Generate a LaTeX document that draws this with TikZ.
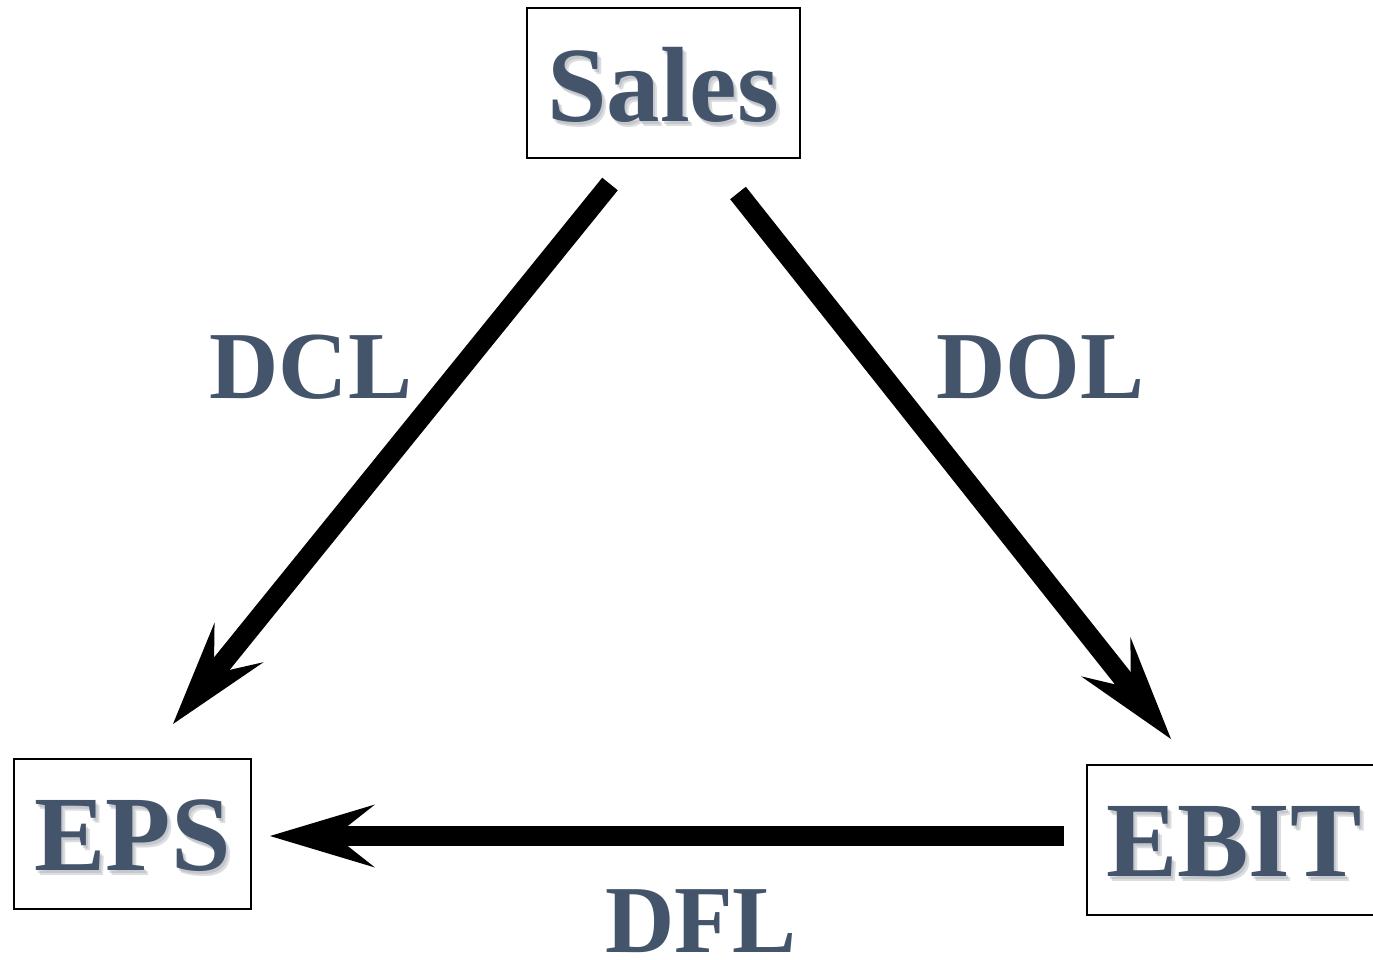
\documentclass[tikz,border=0pt]{standalone}
\usepackage{fontspec}
\setmainfont{Liberation Serif}
\usetikzlibrary{arrows.meta}
\definecolor{txtblue}{HTML}{44546A}
\definecolor{shadowgray}{HTML}{9AA0A8}
\begin{document}
\begin{tikzpicture}[x=1pt,y=-1pt,
  boxst/.style={draw=black, line width=2pt, rectangle, inner sep=0pt},
  bigtxt/.style={anchor=base, inner sep=0pt, text=txtblue, font=\bfseries\fontsize{107}{110}\selectfont},
  bigshadow/.style={anchor=base, inner sep=0pt, text=shadowgray, text opacity=0.35, font=\bfseries\fontsize{107}{110}\selectfont},
  lbl/.style={anchor=base, inner sep=0pt, text=txtblue, font=\bfseries\fontsize{96}{100}\selectfont},
  conn/.style={line width=20pt, -{Stealth[length=105pt, width=63pt, inset=40pt, line width=0pt]}}
]
\useasboundingbox (0,0) rectangle (1373,960);
\clip (0,0) rectangle (1373,960);
\fill[white] (0,0) rectangle (1373,960);

% boxes
\node[boxst, minimum width=273pt, minimum height=150pt] (sales) at (663.5,83) {};
\node[boxst, minimum width=237pt, minimum height=150pt] (eps) at (132.5,834) {};
\node[boxst, minimum width=294pt, minimum height=150pt] (ebit) at (1234,840) {};

% box texts with soft shadow
\node[bigshadow] (salesShA) at (665,125) {Sales};
\node[bigshadow] (salesShB) at (667,127) {Sales};
\node[bigtxt] (salesT) at (663,122) {Sales};
\node[bigshadow] (epsShA) at (134.5,873) {EPS};
\node[bigshadow] (epsShB) at (136.5,875) {EPS};
\node[bigtxt] (epsT) at (132.5,870) {EPS};
\node[bigshadow] (ebitShA) at (1236,879) {EBIT};
\node[bigshadow] (ebitShB) at (1238,881) {EBIT};
\node[bigtxt] (ebitT) at (1234,876) {EBIT};

% labels
\node[lbl] (dcl) at (311,398) {DCL};
\node[lbl] (dol) at (1040.5,398) {DOL};
\node[lbl] (dfl) at (701,952) {DFL};

% connector ends
\coordinate (s1) at (610,184);
\coordinate (t1) at (173,724);
\coordinate (s2) at (738,193);
\coordinate (t2) at (1171,739);
\coordinate (s3) at (1064,836);
\coordinate (t3) at (270,836);

\draw[conn] (s1) -- (t1);
\draw[conn] (s2) -- (t2);
\draw[conn] (s3) -- (t3);
\end{tikzpicture}
\end{document}
